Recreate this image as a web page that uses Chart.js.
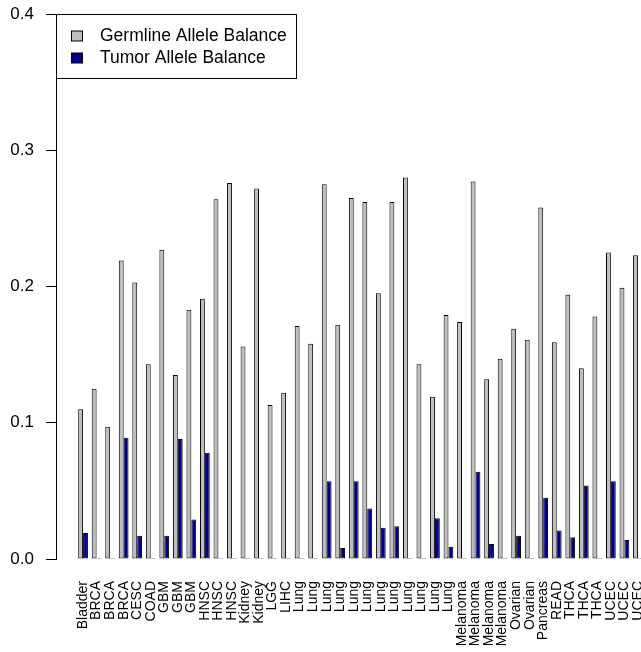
<!DOCTYPE html>
<html>
<head>
<meta charset="utf-8">
<title>Allele balance</title>
<script src="https://cdn.jsdelivr.net/npm/chart.js@4/dist/chart.umd.min.js"></script>
<style>
  html, body { margin: 0; padding: 0; overflow: hidden; background: #fff; }
</style>
</head>
<body>
<canvas id="myChart" width="700" height="652"></canvas>
<script>
const categories = [
  'Bladder', 'BRCA', 'BRCA', 'BRCA', 'CESC', 'COAD', 'GBM', 'GBM', 'GBM',
  'HNSC', 'HNSC', 'HNSC', 'Kidney', 'Kidney', 'LGG', 'LIHC',
  'Lung', 'Lung', 'Lung', 'Lung', 'Lung', 'Lung', 'Lung', 'Lung', 'Lung', 'Lung', 'Lung', 'Lung',
  'Melanoma', 'Melanoma', 'Melanoma', 'Melanoma', 'Ovarian', 'Ovarian', 'Pancreas', 'READ',
  'THCA', 'THCA', 'THCA', 'UCEC', 'UCEC', 'UCEC',
];

const germline = [
  0.110, 0.125, 0.097, 0.219, 0.203, 0.143, 0.227, 0.135, 0.183,
  0.191, 0.264, 0.276, 0.156, 0.272, 0.113, 0.122,
  0.171, 0.158, 0.275, 0.172, 0.265, 0.262, 0.195, 0.262, 0.280, 0.143, 0.119, 0.179,
  0.174, 0.277, 0.132, 0.147, 0.169, 0.161, 0.258, 0.159,
  0.194, 0.140, 0.178, 0.225, 0.199, 0.223,
];

const tumor = [
  0.019, 0, 0, 0.089, 0.017, 0, 0.017, 0.088, 0.029,
  0.078, 0, 0, 0, 0, 0, 0,
  0, 0, 0.057, 0.008, 0.057, 0.037, 0.023, 0.024, 0, 0, 0.030, 0.009,
  0, 0.064, 0.011, 0, 0.017, 0, 0.045, 0.021,
  0.016, 0.054, 0, 0.057, 0.014, 0,
];

const yTicks = [0, 0.1, 0.2, 0.3, 0.4];

const fontFamily = '"Liberation Sans", Arial, Helvetica, sans-serif';
Chart.defaults.font.family = fontFamily;
Chart.defaults.font.size = 14;
Chart.defaults.color = '#000';

// boxed legend in the top left corner of the plot, like R's legend('topleft')
const boxLegend = {
  id: 'boxLegend',
  afterDraw(chart) {
    const ctx = chart.ctx;
    const left = chart.chartArea.left;
    const top = chart.chartArea.top;
    ctx.save();
    ctx.fillStyle = '#fff';
    ctx.fillRect(left, top, 241, 64);
    ctx.strokeStyle = '#000';
    ctx.lineWidth = 1;
    ctx.strokeRect(left + 0.5, top + 0.5, 240, 64);
    ctx.font = '17.5px ' + fontFamily;
    ctx.textBaseline = 'middle';
    chart.data.datasets.forEach((ds, i) => {
      const cy = top + 22 + i * 22;
      ctx.fillStyle = ds.backgroundColor;
      ctx.fillRect(left + 15.5, cy - 5, 11, 10);
      ctx.strokeRect(left + 15.5, cy - 5, 11, 10);
      ctx.fillStyle = '#000';
      ctx.fillText(ds.label, left + 44, cy + 0.5);
    });
    ctx.restore();
  }
};

const data = {
  datasets: [{
    label: 'Germline Allele Balance',
    backgroundColor: '#bebebe',
    borderColor: '#000',
    data: germline.map((v, i) => ({x: i, y: v})),
  }, {
    label: 'Tumor Allele Balance',
    backgroundColor: '#00008b',
    borderColor: '#000',
    data: tumor.map((v, i) => ({x: i, y: v})),
  }]
};

const config = {
  type: 'bar',
  data,
  options: {
    responsive: false,
    animation: false,
    events: [],
    layout: {padding: {top: 14, left: 0, right: 35, bottom: 0}},
    datasets: {
      bar: {
        borderWidth: 1,
        borderSkipped: false,
        categoryPercentage: 0.72,
        barPercentage: 1,
        minBarLength: 1,
      }
    },
    plugins: {
      legend: {display: false},
      tooltip: {enabled: false},
    },
    scales: {
      x: {
        type: 'linear',
        min: -2,
        max: 43,
        offset: false,
        grid: {display: false, drawTicks: false},
        border: {display: false},
        afterBuildTicks: (axis) => {
          axis.ticks = categories.map((c, i) => ({value: i}));
        },
        afterFit: (axis) => {
          axis.height = 93;
          axis.paddingLeft = 0;
          axis.paddingRight = 0;
        },
        ticks: {
          autoSkip: false,
          minRotation: 90,
          maxRotation: 90,
          padding: 22,
          color: '#000',
          callback: (value) => categories[value],
        }
      },
      y: {
        min: 0,
        max: 0.4,
        grid: {drawOnChartArea: false, tickLength: 10, color: '#000', tickColor: '#000'},
        border: {display: true, color: '#000', width: 1},
        afterBuildTicks: (axis) => {
          axis.ticks = yTicks.map(v => ({value: v}));
        },
        afterFit: (axis) => {
          axis.width = 56;
          axis.paddingTop = 0;
          axis.paddingBottom = 0;
        },
        ticks: {
          padding: 12,
          color: '#000',
          font: {size: 17},
          callback: (value) => value.toFixed(1),
        }
      }
    }
  },
  plugins: [boxLegend]
};

var myChart = new Chart(document.getElementById('myChart'), config);
</script>
</body>
</html>
